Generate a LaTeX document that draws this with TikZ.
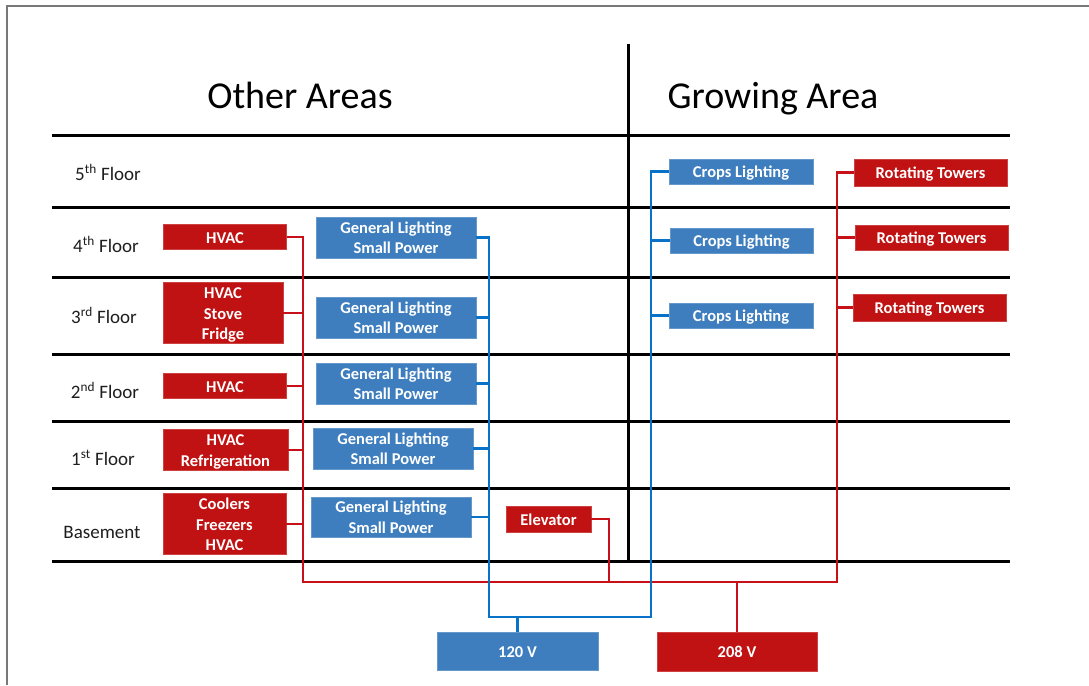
\documentclass[tikz,border=0pt]{standalone}
\usepackage{fontspec}
\setmainfont{Carlito}
% strut that keeps the capitals near the middle of each box
\newcommand\capstrut{\vrule height 16pt depth 3.6pt width 0pt}
\begin{document}
\definecolor{boxred}{RGB}{192,18,18}
\definecolor{boxblue}{RGB}{62,126,190}
\definecolor{wirered}{RGB}{200,16,24}
\definecolor{wireblue}{RGB}{8,114,200}
\definecolor{framegrey}{RGB}{120,120,120}
\definecolor{labelgrey}{RGB}{30,30,30}
\begin{tikzpicture}[x=1pt,y=-1pt,
  floorline/.style={line width=3pt,black},
  redbox/.style={fill=boxred,draw=boxred!80!white,line width=0.6pt,text=white,inner sep=0pt,
    font=\bfseries\fontsize{16.5}{20.5}\selectfont,align=center},
  bluebox/.style={fill=boxblue,draw=boxblue!80!white,line width=0.6pt,text=white,inner sep=0pt,
    font=\bfseries\fontsize{16.5}{20.5}\selectfont,align=center},
  redwire/.style={draw=wirered,line width=2.6pt},
  bluewire/.style={draw=wireblue,line width=2.6pt},
  floorlabel/.style={text=labelgrey,font=\fontsize{19}{22}\selectfont,inner sep=0pt,anchor=base},
  heading/.style={text=black,font=\fontsize{38}{44}\selectfont,inner sep=0pt,anchor=base}]
\useasboundingbox (0,0) rectangle (1089,685);
\fill[white] (0,0) rectangle (1089,685);

% page frame
\draw[framegrey,line width=2pt] (7,685) -- (7,6) -- (1089,6);

% grid of floors
\draw[floorline] (628,44) -- (628,561);
\foreach \yy in {135,207,277,354,421,488,561}
  \draw[floorline] (52,\yy) -- (1010,\yy);

% headings
\node[heading] (hother) at (300,108) {Other Areas};
\node[heading] (hgrow) at (773,108) {Growing Area};

% floor names
\node[floorlabel] (f5) at (108,180) {5\textsuperscript{th} Floor};
\node[floorlabel] (f4) at (106,252) {4\textsuperscript{th} Floor};
\node[floorlabel] (f3) at (104,323) {3\textsuperscript{rd} Floor};
\node[floorlabel] (f2) at (105,398) {2\textsuperscript{nd} Floor};
\node[floorlabel] (f1) at (103,465) {1\textsuperscript{st} Floor};
\node[floorlabel] (fb) at (102,538) {Basement};

% 208 V loads
\node[redbox,minimum width=123,minimum height=25] (hvac4) at (225,237) {\capstrut HVAC};
\node[redbox,minimum width=120,minimum height=60] (hvac3) at (223,313) {\capstrut HVAC\\\capstrut Stove\\\capstrut Fridge};
\node[redbox,minimum width=123,minimum height=25] (hvac2) at (225,386) {\capstrut HVAC};
\node[redbox,minimum width=125,minimum height=41] (hvac1) at (225.5,450) {\capstrut HVAC\\\capstrut Refrigeration};
\node[redbox,minimum width=123,minimum height=60] (hvacb) at (224.5,524) {\capstrut Coolers\\\capstrut Freezers\\\capstrut HVAC};
\node[redbox,minimum width=85,minimum height=26] (elev) at (548.5,519) {\capstrut Elevator};
\node[redbox,minimum width=153,minimum height=27] (rt1) at (930.5,172.5) {\capstrut Rotating Towers};
\node[redbox,minimum width=153,minimum height=25] (rt2) at (931.5,237.5) {\capstrut Rotating Towers};
\node[redbox,minimum width=153,minimum height=27] (rt3) at (929.5,307.5) {\capstrut Rotating Towers};
\node[redbox,minimum width=160,minimum height=39] (v208) at (737,651.5) {\capstrut 208 V};

% 120 V loads
\node[bluebox,minimum width=160,minimum height=41] (gl4) at (396,237.5) {\capstrut General Lighting\\\capstrut Small Power};
\node[bluebox,minimum width=160,minimum height=41] (gl3) at (396,317.5) {\capstrut General Lighting\\\capstrut Small Power};
\node[bluebox,minimum width=160,minimum height=41] (gl2) at (396,383.5) {\capstrut General Lighting\\\capstrut Small Power};
\node[bluebox,minimum width=160,minimum height=41] (gl1) at (393,448.5) {\capstrut General Lighting\\\capstrut Small Power};
\node[bluebox,minimum width=160,minimum height=40] (glb) at (391,517) {\capstrut General Lighting\\\capstrut Small Power};
\node[bluebox,minimum width=144,minimum height=25] (cl1) at (741,171.5) {\capstrut Crops Lighting};
\node[bluebox,minimum width=143,minimum height=25] (cl2) at (741.5,240.5) {\capstrut Crops Lighting};
\node[bluebox,minimum width=144,minimum height=25] (cl3) at (741,315.5) {\capstrut Crops Lighting};
\node[bluebox,minimum width=161,minimum height=38] (v120) at (517.5,651) {\capstrut 120 V};

% bus corners
\coordinate (rbl) at (303,582);
\coordinate (rbr) at (837,582);
\coordinate (edrop) at (609,582);
\coordinate (bbl) at (489,617);
\coordinate (bbr) at (651,617);

% 208 V distribution
\draw[redwire,line join=miter] (hvac4.east) -- (hvac4.east -| rbl) -- (rbl) -- (rbr) -- (rbr |- rt1.west) -- (rt1.west);
\foreach \n in {hvac3,hvac2,hvac1,hvacb}
  \draw[redwire] (\n.east) -- (\n.east -| rbl);
\foreach \n in {rt2,rt3}
  \draw[redwire] (\n.west) -- (\n.west -| rbr);
\draw[redwire,line join=miter] (elev.east) -| (edrop);
\draw[redwire] (v208.north) -- (v208.north |- rbl);

% 120 V distribution
\draw[bluewire,line join=miter] (gl4.east) -- (gl4.east -| bbl) -- (bbl) -- (bbr) -- (bbr |- cl1.west) -- (cl1.west);
\foreach \n in {gl3,gl2,gl1,glb}
  \draw[bluewire] (\n.east) -- (\n.east -| bbl);
\foreach \n in {cl2,cl3}
  \draw[bluewire] (\n.west) -- (\n.west -| bbr);
\draw[bluewire] (v120.north) -- (v120.north |- bbl);
\end{tikzpicture}
\end{document}
